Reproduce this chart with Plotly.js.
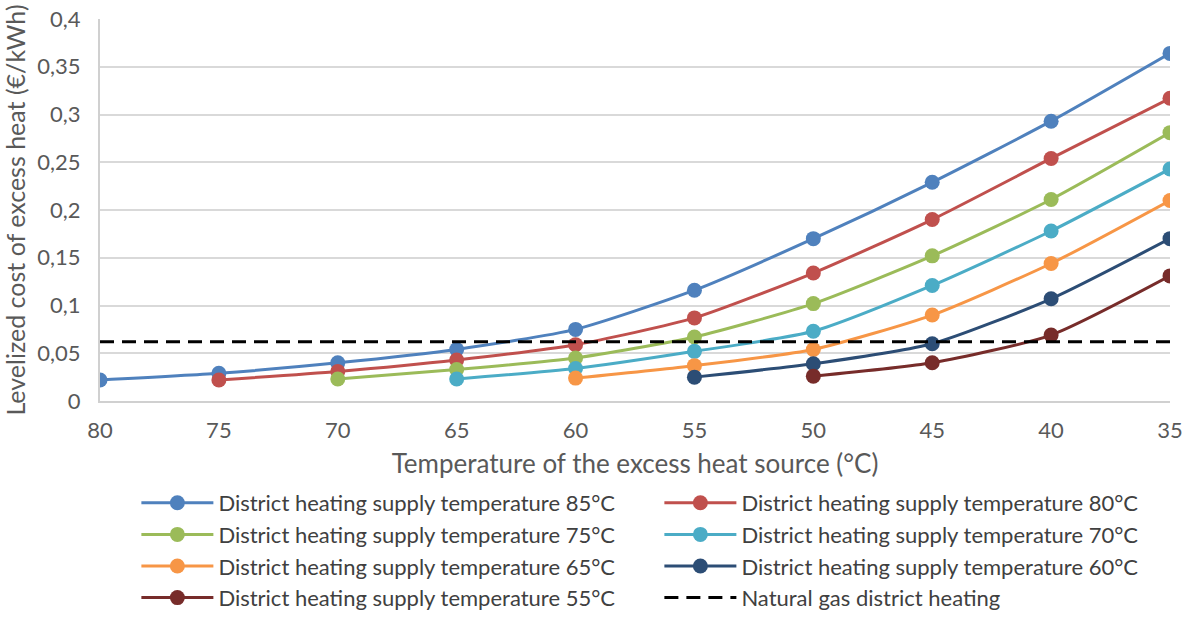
<!DOCTYPE html>
<html>
<head>
<meta charset="utf-8">
<script src="https://cdn.plot.ly/plotly-3.0.1.min.js"></script>
<style>html,body{margin:0;padding:0;background:#fff;}#chart{width:1190px;height:619px;}</style>
</head>
<body>
<div id="chart"></div>
<script>
// Temperature of the excess heat source (°C)
const sourceTemps = [80, 75, 70, 65, 60, 55, 50, 45, 40, 35];
// Levelized cost of excess heat (€/kWh) per district heating supply temperature
const dh85 = [0.022, 0.029, 0.040, 0.054, 0.075, 0.116, 0.170, 0.229, 0.293, 0.364];
const dh80 = [null, 0.022, 0.031, 0.043, 0.059, 0.087, 0.134, 0.190, 0.254, 0.317];
const dh75 = [null, null, 0.023, 0.033, 0.045, 0.067, 0.102, 0.152, 0.211, 0.281];
const dh70 = [null, null, null, 0.023, 0.034, 0.052, 0.073, 0.121, 0.178, 0.243];
const dh65 = [null, null, null, null, 0.024, 0.037, 0.054, 0.090, 0.144, 0.210];
const dh60 = [null, null, null, null, null, 0.025, 0.039, 0.060, 0.107, 0.170];
const dh55 = [null, null, null, null, null, null, 0.026, 0.040, 0.069, 0.131];
const gasX = [80, 35];
const gasCost = [0.062, 0.062];
const yTickVals = [0, 0.05, 0.1, 0.15, 0.2, 0.25, 0.3, 0.35, 0.4];
const yTickText = ['0', '0,05', '0,1', '0,15', '0,2', '0,25', '0,3', '0,35', '0,4'];

const seriesNames = [
  'District heating supply temperature 85°C',
  'District heating supply temperature 80°C',
  'District heating supply temperature 75°C',
  'District heating supply temperature 70°C',
  'District heating supply temperature 65°C',
  'District heating supply temperature 60°C',
  'District heating supply temperature 55°C'
];
const seriesData = [dh85, dh80, dh75, dh70, dh65, dh60, dh55];
const colors = ['#4F81BD', '#C0504D', '#9BBB59', '#4BACC6', '#F79646', '#2C4D75', '#772C2A'];

const traces = seriesData.map((ys, i) => ({
  type: 'scatter', mode: 'lines+markers', name: seriesNames[i],
  x: sourceTemps, y: ys,
  line: {color: colors[i], width: 3, shape: 'spline', smoothing: 0.6},
  marker: {color: colors[i], size: 15}
}));
traces.push({
  type: 'scatter', mode: 'lines', name: 'Natural gas district heating',
  x: gasX, y: gasCost,
  line: {color: '#000000', width: 3, dash: '14px,8px'}
});

const fam = 'Lato, "Liberation Sans", Arial, sans-serif';
const layout = {
  width: 1190, height: 619,
  margin: {l: 100, r: 20, t: 19, b: 218, autoexpand: false},
  paper_bgcolor: '#fff', plot_bgcolor: '#fff',
  separators: ', ',
  font: {family: fam, size: 20, color: '#595959'},
  showlegend: true,
  xaxis: {
    range: [80, 35], tickvals: sourceTemps, ticks: '', showgrid: false,
    zeroline: false, showline: true, linecolor: '#d0d0d0', linewidth: 2,
    tickfont: {size: 22, color: '#595959', family: fam}, ticklabelstandoff: 9,
    title: {text: 'Temperature of the excess heat source (°C)', font: {size: 26, color: '#595959', family: fam}, standoff: 12}
  },
  yaxis: {
    range: [0, 0.4], tickvals: yTickVals, ticktext: yTickText, ticks: '',
    showgrid: true, gridcolor: '#d9d9d9', gridwidth: 2, zeroline: false,
    showline: true, linecolor: '#d0d0d0', linewidth: 2,
    tickfont: {size: 22, color: '#595959', family: fam}, ticklabelstandoff: 13,
    title: {text: 'Levelized cost of excess heat (€/kWh)', font: {size: 25, color: '#595959', family: fam}, standoff: 6}
  },
  legend: {
    orientation: 'h', x: 0.034, xanchor: 'left', y: -0.212, yanchor: 'top',
    entrywidth: 436, entrywidthmode: 'pixels', itemwidth: 72,
    font: {size: 22, color: '#404040', family: fam},
    tracegroupgap: 0
  }
};
Plotly.newPlot('chart', traces, layout, {displayModeBar: false, staticPlot: true});
</script>
</body>
</html>
